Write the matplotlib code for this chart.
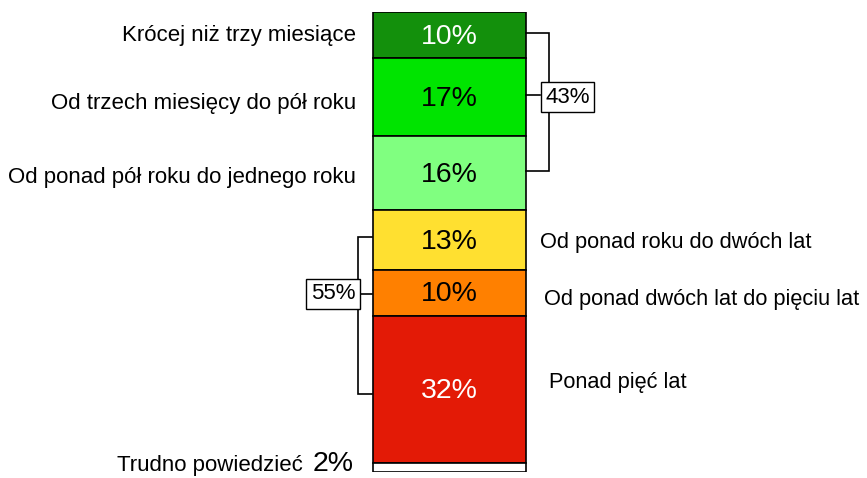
import numpy as np
import matplotlib.pyplot as plt

plt.rcParams['font.family'] = ['Liberation Sans', 'DejaVu Sans']

kategorie = [
    "Krócej niż trzy miesiące",
    "Od trzech miesięcy do pół roku",
    "Od ponad pół roku do jednego roku",
    "Od ponad roku do dwóch lat",
    "Od ponad dwóch lat do pięciu lat",
    "Ponad pięć lat",
    "Trudno powiedzieć",
]
wartosci = [10, 17, 16, 13, 10, 32, 2]
kolory = ["#13900c", "#00e400", "#80ff80", "#ffe030", "#ff8000", "#e31a06", "#ffffff"]
kolory_tekstu = ["white", "black", "black", "black", "black", "white", "black"]
strona = ["L", "L", "L", "R", "R", "R", "L"]
suma_gora = 43
suma_dol = 55

fig = plt.figure(figsize=(8.67, 4.78), dpi=100)
# y: 0..100 odpowiada pikselom 12..472 od gory
ax = fig.add_axes([0, 6 / 478, 1, 460 / 478])
ax.set_xlim(0, 867)
ax.set_ylim(100, 0)
ax.axis("off")

bar_x = 449.5
bar_w = 153
starty = np.concatenate([[0], np.cumsum(wartosci)[:-1]])
srodki = starty + np.array(wartosci) / 2

ax.bar([bar_x] * len(wartosci), wartosci, bottom=starty, width=bar_w,
       color=kolory, edgecolor="black", linewidth=1.2)

# przesuniecia etykiet (w procentach)
przes_et = [0, 1.3, 1.0, 0.7, 1.5, -1.4, 0]

for i, (kat, w) in enumerate(zip(kategorie, wartosci)):
    if i < len(wartosci) - 1:
        ax.text(bar_x, srodki[i] + 0.4, f"{w}%", ha="center", va="center",
                fontsize=20.5, color=kolory_tekstu[i])
    y = srodki[i] + przes_et[i]
    if strona[i] == "L":
        if i == len(wartosci) - 1:
            ax.text(354, 99.8, f"{w}%", ha="right", va="baseline", fontsize=20.5)
            ax.text(303, 99.8, kat, ha="right", va="baseline", fontsize=16)
        else:
            ax.text(356, y, kat, ha="right", va="center", fontsize=16)
    else:
        xs = {3: 540, 4: 544, 5: 549}[i]
        ax.text(xs, y, kat, ha="left", va="center", fontsize=15.7)

# klamra gorna (prawa strona)
y1, ym, y2 = srodki[0] - 0.5, srodki[1] - 0.5, srodki[2] - 0.5
ax.plot([526, 549, 549, 526], [y1, y1, y2, y2], color="black", lw=1.2,
        solid_joinstyle="miter")
ax.plot([526, 540], [ym, ym], color="black", lw=1.2)
ax.text(567.5, ym + 0.5, f"{suma_gora}%", ha="center", va="center", fontsize=16,
        bbox=dict(boxstyle="square,pad=0.2", fc="white", ec="black", lw=1.0))

# klamra dolna (lewa strona)
y1, ym, y2 = srodki[3] - 0.5, srodki[4] + 0.3, srodki[5] + 1
ax.plot([372, 358, 358, 372], [y1, y1, y2, y2], color="black", lw=1.2,
        solid_joinstyle="miter")
ax.plot([358, 372], [ym, ym], color="black", lw=1.2)
ax.text(333, ym, f"{suma_dol}%", ha="center", va="center", fontsize=16,
        bbox=dict(boxstyle="square,pad=0.2", fc="white", ec="black", lw=1.0))

fig.savefig("out.png", dpi=100)
